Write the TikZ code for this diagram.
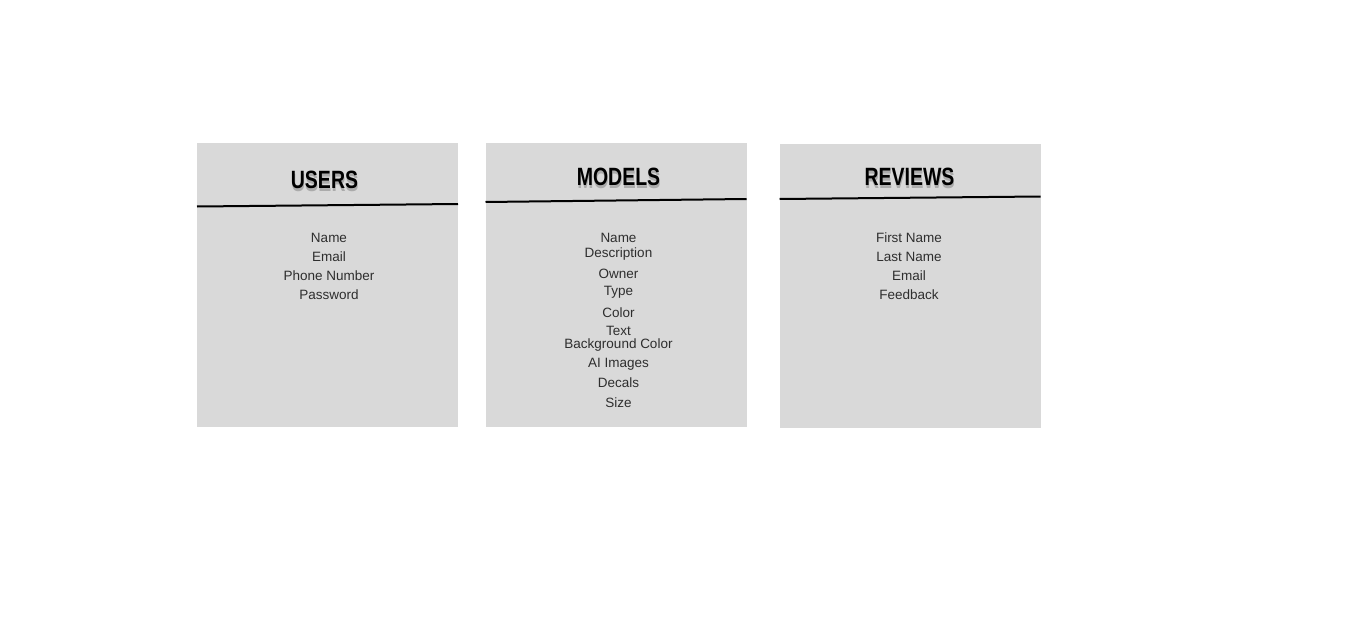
\documentclass[tikz,border=0pt]{standalone}
\usepackage{fontspec}
\setmainfont{Liberation Sans}
\newfontfamily\headfont{Liberation Sans}[FakeStretch=0.78]

\definecolor{tablegray}{HTML}{D9D9D9}
\definecolor{fieldgray}{HTML}{2E2E2E}

\tikzset{
  table/.style={fill=tablegray, draw=none, inner sep=0pt, anchor=north west,
                minimum width=261pt, minimum height=284pt},
  title/.style={font=\headfont\bfseries\fontsize{25}{25}\selectfont, inner sep=0pt},
  shadow/.style={title, text=black!55, opacity=.45},
  field/.style={font=\fontsize{13.5}{14}\selectfont, text=fieldgray, inner sep=0pt, yshift=-1pt},
  rule/.style={line width=2pt, black},
}

\begin{document}
\begin{tikzpicture}[x=1pt,y=-1pt]
\fill[white] (0,0) rectangle (1350,629);
\useasboundingbox (0,0) rectangle (1350,629);

% users
\node[table] (users) at (197,143) {};
\draw[rule] (197,206.5) -- (458,204);
\node[shadow] (usershadow) at (325,182.5) {USERS};
\node[title] (userstitle) at (324.5,180) {USERS};
\foreach \f/\y in {Name/237, Email/256, Phone Number/275, Password/294}
  \node[field] (users\y) at (329,\y) {\f};

% models
\node[table] (models) at (485.5,143) {};
\draw[rule] (485.5,202) -- (746.5,199);
\node[shadow] (modelsshadow) at (619,179.5) {MODELS};
\node[title] (modelstitle) at (618.5,177) {MODELS};
\foreach \f/\y in {Name/237, Description/253, Owner/273, Type/291, Color/312,
                   Text/330, Background Color/344, AI Images/363, Decals/382, Size/402}
  \node[field] (models\y) at (618.5,\y) {\f};

% reviews
\node[table] (reviews) at (779.5,144) {};
\draw[rule] (779.5,199) -- (1040.5,196.5);
\node[shadow] (reviewsshadow) at (910,179.5) {REVIEWS};
\node[title] (reviewstitle) at (909.5,177) {REVIEWS};
\foreach \f/\y in {First Name/237, Last Name/256, Email/275, Feedback/294}
  \node[field] (reviews\y) at (909,\y) {\f};
\end{tikzpicture}
\end{document}
